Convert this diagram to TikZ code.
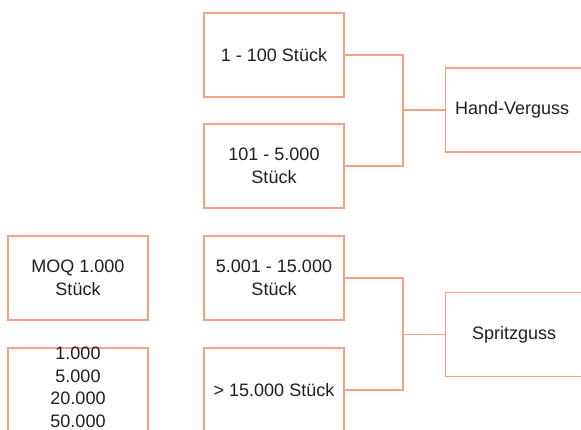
\documentclass[tikz,border=0pt]{standalone}
\usepackage{fontspec}
\setmainfont{Liberation Sans}
\definecolor{salmon}{RGB}{248,160,132}
\begin{document}
\begin{tikzpicture}[x=1pt,y=-1pt,
  box/.style={draw=salmon,line width=1.4pt,minimum width=140pt,minimum height=84pt,inner sep=0pt,align=center,font=\fontsize{18}{23}\selectfont,text=black!88},
  wide/.style={box,minimum width=137pt},
  conn/.style={draw=salmon,line width=1.3pt},
  txt/.style={font=\fontsize{18}{22.5}\selectfont,text=black!88,align=center,inner sep=0pt}]
\useasboundingbox (0,0) rectangle (581,429);
\clip (0,0) rectangle (581,429);
\node[box] (b1) at (274,55) {1 - 100 Stück};
\node[box] (b2) at (274,166) {101 - 5.000\\Stück};
\node[box] (b3) at (274,278) {5.001 - 15.000\\Stück};
\node[box] (b4) at (274,390) {> 15.000 Stück};
\node[box] (moq) at (78,278) {MOQ 1.000\\Stück};
\node[box] (qty) at (78,390) {};
\node[txt,anchor=north] (qtytxt) at (78,347) {1.000\\5.000\\20.000\\50.000};
\node[wide,anchor=west] (hv) at (445,110) {\hspace*{-4pt}Hand-Verguss};
\node[wide,anchor=west] (sg) at (445,334.5) {Spritzguss};
\coordinate (j1) at (403,110);
\coordinate (j2) at (403,334.5);
\draw[conn] (b1.east) -| (j1) |- (b2.east);
\draw[conn] (j1) -- (hv.west);
\draw[conn] (b3.east) -| (j2) |- (b4.east);
\draw[conn] (j2) -- (sg.west);
\end{tikzpicture}
\end{document}
